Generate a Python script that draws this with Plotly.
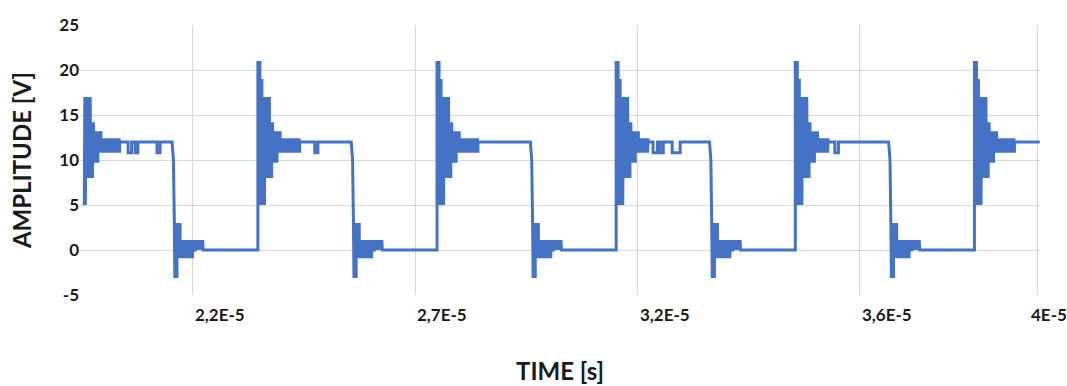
import plotly.graph_objects as go

# ---------------- data (time in microseconds, amplitude in volts) ----------------
T_START = 19.55
T_END = 41.05
HIGH_LEVEL = 12.0
LOW_LEVEL = 0.0

RISE_TIMES = [19.43, 23.46, 27.49, 31.52, 35.55, 39.58]
FALL_TIMES = [21.53, 25.56, 29.59, 33.62, 37.65]
RING_END_AFTER_RISE = [0.92, 0.94, 0.92, 0.72, 0.74, 0.90]

# ringing envelope after each rising edge (µs after edge, upper V, lower V)
RISE_RING_START = [0.000, 0.045, 0.09, 0.16, 0.27, 0.31, 0.34, 0.43, 0.50]
RISE_RING_END = [0.045, 0.09, 0.16, 0.27, 0.31, 0.34, 0.43, 0.50, 0.94]
RISE_RING_UPPER = [21.0, 19.0, 17.0, 17.0, 14.2, 14.2, 13.2, 13.2, 12.4]
RISE_RING_LOWER = [5.0, 5.0, 5.0, 8.0, 8.0, 9.7, 9.7, 10.8, 10.8]

# falling edge and ringing after it
FALL_EDGE_T = [0.00, 0.03, 0.05]
FALL_EDGE_V = [12.0, 10.0, 3.0]
FALL_RING_START = [0.05, 0.11, 0.18, 0.47, 0.52]
FALL_RING_END = [0.11, 0.18, 0.47, 0.52, 0.70]
FALL_RING_UPPER = [3.0, 3.0, 1.1, 0.0, 1.1]
FALL_RING_LOWER = [-3.1, -0.9, -0.9, 0.0, 0.0]

# short dips on the high level
NOTCH_TIMES = [20.54, 20.70, 21.19, 24.74, 32.35, 32.51, 32.78, 36.44]
NOTCH_WIDTHS = [0.08, 0.06, 0.07, 0.07, 0.10, 0.07, 0.18, 0.08]
NOTCH_LEVEL = 10.8
OSC_STEP = 0.012

# axis ticks
GRID_T = [22.0, 27.0, 32.0, 37.0, 41.0]
TICK_LABELS = ["2,2E-5", "2,7E-5", "3,2E-5", "3,6E-5", "4E-5"]
Y_TICKS = [-5, 0, 5, 10, 15, 20, 25]
Y_TICK_LABELS = ["-5", "0", "5", "10", "15", "20", "25"]

# ---------------- build the trace ----------------
ts, vs = [], []


def add(t, v):
    if T_START <= t <= T_END:
        ts.append(t)
        vs.append(v)


def ring(base, t0, t1, up, lo):
    n = max(2, round((t1 - t0) / OSC_STEP))
    for k in range(n + 1):
        add(base + t0 + (t1 - t0) * k / n, up if k % 2 == 0 else lo)


for i, r in enumerate(RISE_TIMES):
    add(r, LOW_LEVEL)
    end = RING_END_AFTER_RISE[i]
    for s, e, u, l in zip(RISE_RING_START, RISE_RING_END, RISE_RING_UPPER, RISE_RING_LOWER):
        if s >= end:
            break
        ring(r, s, min(e, end), u, l)
    add(r + end, HIGH_LEVEL)
    stop = FALL_TIMES[i] if i < len(FALL_TIMES) else T_END
    for tn, w in sorted(zip(NOTCH_TIMES, NOTCH_WIDTHS)):
        if r + end < tn < stop:
            add(tn, HIGH_LEVEL)
            add(tn, NOTCH_LEVEL)
            add(tn + w, NOTCH_LEVEL)
            add(tn + w, HIGH_LEVEL)
    if i < len(FALL_TIMES):
        f = FALL_TIMES[i]
        for dt, v in zip(FALL_EDGE_T, FALL_EDGE_V):
            add(f + dt, v)
        for s, e, u, l in zip(FALL_RING_START, FALL_RING_END, FALL_RING_UPPER, FALL_RING_LOWER):
            ring(f, s, e, u, l)
        add(f + FALL_RING_END[-1], LOW_LEVEL)
    else:
        add(T_END, HIGH_LEVEL)

FONT = "Lato"
TXT = "#1a1a1a"

fig = go.Figure()
fig.add_trace(go.Scatter(x=ts, y=vs, mode="lines",
                         line=dict(color="#4472C4", width=3, simplify=False),
                         hoverinfo="skip", showlegend=False))

fig.update_layout(
    width=1067, height=386,
    margin=dict(l=80, r=27, t=25, b=91),
    paper_bgcolor="white", plot_bgcolor="white",
    xaxis=dict(range=[19.458, 41.055], tickvals=GRID_T, showticklabels=False,
               showgrid=True, gridcolor="#d9d9d9", gridwidth=1, zeroline=False,
               ticks="", showline=False, automargin=False,
               title=dict(text="TIME [s]", font=dict(family=FONT, size=24, color=TXT, weight="bold"),
                          standoff=68)),
    yaxis=dict(range=[-5, 25], tickvals=Y_TICKS, ticktext=Y_TICK_LABELS, showgrid=True,
               gridcolor="#d9d9d9", gridwidth=1, zeroline=False, ticks="", showline=False,
               automargin=False,
               tickfont=dict(family=FONT, size=17, color=TXT, weight="bold"),
               title=dict(text="AMPLITUDE [V]", font=dict(family=FONT, size=24, color=TXT, weight="bold"),
                          standoff=20)),
)

for t, lab in zip(GRID_T, TICK_LABELS):
    last = lab == TICK_LABELS[-1]
    fig.add_annotation(x=t, y=0, xref="x", yref="paper", text=lab, showarrow=False,
                       xanchor="left", yanchor="top", xshift=-9 if last else 0, yshift=-7,
                       font=dict(family=FONT, size=17, color=TXT, weight="bold"))

fig.write_html("out.html", config={"displayModeBar": False},
               post_script="document.body.style.margin='0';")
